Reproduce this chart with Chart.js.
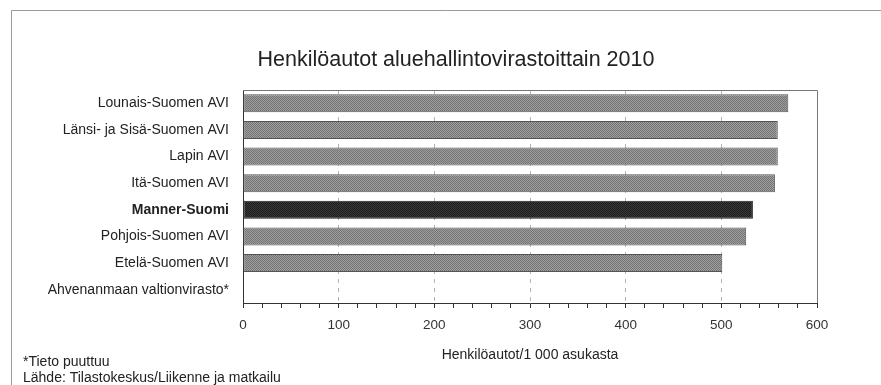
<!DOCTYPE html>
<html>
<head>
<meta charset="utf-8">
<script src="https://cdn.jsdelivr.net/npm/chart.js@4/dist/chart.umd.min.js"></script>
<style>
  html, body { margin: 0; padding: 0; background: #fff; }
  #wrap { width: 881px; height: 385px; }
</style>
</head>
<body>
<div id="wrap"><canvas id="myChart"></canvas></div>
<script>
const regions = [
  'Lounais-Suomen AVI',
  'Länsi- ja Sisä-Suomen AVI',
  'Lapin AVI',
  'Itä-Suomen AVI',
  'Manner-Suomi',
  'Pohjois-Suomen AVI',
  'Etelä-Suomen AVI',
  'Ahvenanmaan valtionvirasto*',
];
const carsPer1000 = [570, 559, 559, 556, 533, 526, 501, null];
const xTicks = [0, 100, 200, 300, 400, 500, 600];

const titleText = 'Henkilöautot aluehallintovirastoittain 2010';
const xTitle = 'Henkilöautot/1 000 asukasta';
const notes = ['*Tieto puuttuu', 'Lähde: Tilastokeskus/Liikenne ja matkailu'];

const FONT = '"Liberation Sans", Arial, sans-serif';

function stipple(c1, c2) {
  const p = document.createElement('canvas');
  p.width = 2;
  p.height = 2;
  const g = p.getContext('2d');
  g.fillStyle = c1;
  g.fillRect(0, 0, 2, 2);
  g.fillStyle = c2;
  g.fillRect(0, 0, 1, 1);
  g.fillRect(1, 1, 1, 1);
  return g.createPattern(p, 'repeat');
}
const greyFill = stipple('#a0a0a0', '#727272');
const darkFill = stipple('#383838', '#1e1e1e');

// frame, box round the plot, title and notes
const decorations = {
  id: 'decorations',
  beforeDraw(chart) {
    const { ctx } = chart;
    ctx.save();
    ctx.strokeStyle = '#9a9a9a';
    ctx.lineWidth = 1;
    ctx.beginPath();
    ctx.moveTo(11.5, 385);
    ctx.lineTo(11.5, 10.5);
    ctx.lineTo(881, 10.5);
    ctx.stroke();
    ctx.restore();
  },
  afterDraw(chart) {
    const { ctx, chartArea: a } = chart;
    ctx.save();
    ctx.strokeStyle = '#777';
    ctx.lineWidth = 1;
    ctx.beginPath();
    ctx.moveTo(a.left, a.top + 0.5);
    ctx.lineTo(a.right + 0.5, a.top + 0.5);
    ctx.lineTo(a.right + 0.5, a.bottom);
    ctx.stroke();

    ctx.fillStyle = '#222';
    ctx.textBaseline = 'middle';
    ctx.textAlign = 'center';
    ctx.font = '21.5px ' + FONT;
    ctx.fillText(titleText, 456, 60);

    ctx.font = '14px ' + FONT;
    ctx.fillText(xTitle, (a.left + a.right) / 2, 355);

    ctx.textAlign = 'left';
    ctx.font = '14px ' + FONT;
    ctx.fillText(notes[0], 23, 362);
    ctx.fillText(notes[1], 23, 378);
    ctx.restore();
  },
};

const config = {
  type: 'bar',
  data: {
    labels: regions,
    datasets: [
      {
        data: carsPer1000,
        backgroundColor: (c) => (c.dataIndex === 4 ? darkFill : greyFill),
        borderColor: (c) => (c.dataIndex === 4 ? '#222' : '#555'),
        borderWidth: 1,
        borderSkipped: false,
        barPercentage: 0.8,
        categoryPercentage: 0.85,
      },
    ],
  },
  options: {
    indexAxis: 'y',
    responsive: true,
    maintainAspectRatio: false,
    animation: false,
    layout: { padding: { top: 90, right: 64, left: 0, bottom: 0 } },
    plugins: {
      legend: { display: false },
      tooltip: { enabled: false },
      title: { display: false },
    },
    scales: {
      x: {
        type: 'linear',
        min: 0,
        max: 600,
        afterBuildTicks: (scale) => {
          const t = [];
          for (let v = 0; v <= 600; v += 20) t.push({ value: v });
          scale.ticks = t;
        },
        afterFit: (scale) => {
          scale.height = 82;
        },
        ticks: {
          autoSkip: false,
          maxRotation: 0,
          padding: 9,
          color: '#333',
          font: { family: FONT, size: 13.5 },
          callback: (v) => (xTicks.includes(v) ? v : ''),
        },
        grid: {
          color: (c) =>
            c.tick && c.tick.value % 100 === 0 && c.tick.value > 0 && c.tick.value < 600
              ? '#b4b4b4'
              : 'rgba(0,0,0,0)',
          tickColor: '#333',
          tickLength: 5,
          tickBorderDash: [],
          drawTicks: true,
        },
        border: { display: true, color: '#333', dash: [4, 5] },
      },
      y: {
        afterFit: (scale) => {
          scale.width = 243;
        },
        ticks: {
          padding: 14,
          color: '#222',
          font: (c) => ({
            family: FONT,
            size: 14,
            weight: c.index === 4 ? 'bold' : 'normal',
          }),
        },
        grid: { display: false, drawTicks: false },
        border: { display: true, color: '#333' },
      },
    },
  },
  plugins: [decorations],
};

const myChart = new Chart(document.getElementById('myChart'), config);
</script>
</body>
</html>
